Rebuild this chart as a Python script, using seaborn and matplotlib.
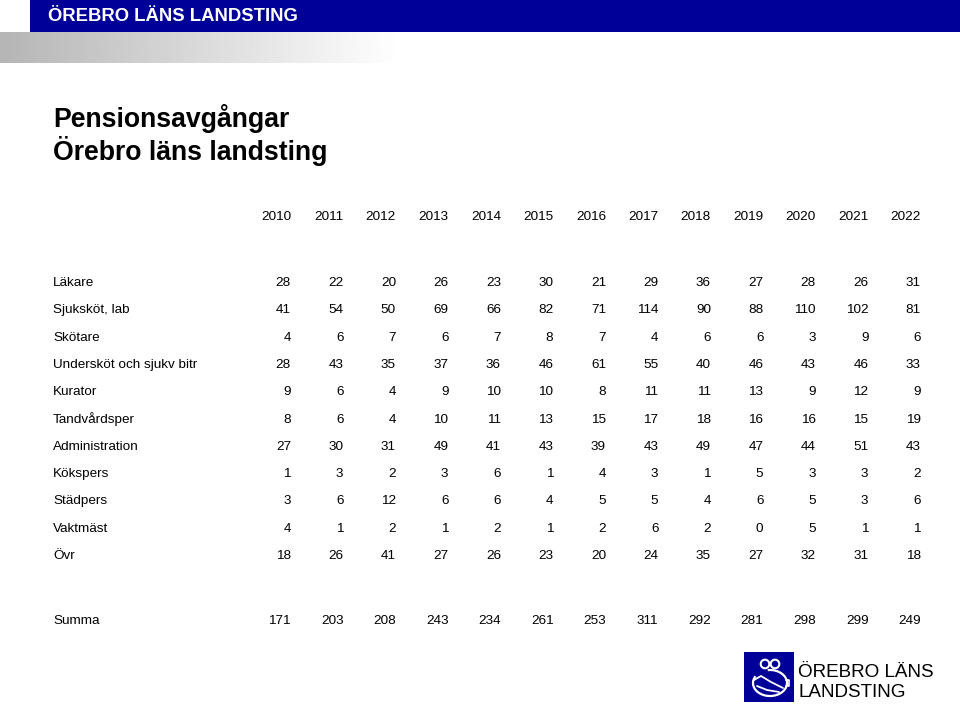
import numpy as np
import pandas as pd
import matplotlib
matplotlib.use("Agg")
import matplotlib.pyplot as plt
import seaborn as sns
from matplotlib.colors import ListedColormap
from matplotlib.patches import Rectangle, Circle, Arc
from matplotlib.transforms import blended_transform_factory

# ---------------- data ----------------
years = [2010, 2011, 2012, 2013, 2014, 2015, 2016, 2017, 2018, 2019, 2020, 2021, 2022]
categories = ["Läkare", "Sjuksköt, lab", "Skötare", "Undersköt och sjukv bitr",
              "Kurator", "Tandvårdsper", "Administration", "Kökspers",
              "Städpers", "Vaktmäst", "Övr"]
lakare = [28, 22, 20, 26, 23, 30, 21, 29, 36, 27, 28, 26, 31]
sjukskot = [41, 54, 50, 69, 66, 82, 71, 114, 90, 88, 110, 102, 81]
skotare = [4, 6, 7, 6, 7, 8, 7, 4, 6, 6, 3, 9, 6]
underskot = [28, 43, 35, 37, 36, 46, 61, 55, 40, 46, 43, 46, 33]
kurator = [9, 6, 4, 9, 10, 10, 8, 11, 11, 13, 9, 12, 9]
tandvard = [8, 6, 4, 10, 11, 13, 15, 17, 18, 16, 16, 15, 19]
administration = [27, 30, 31, 49, 41, 43, 39, 43, 49, 47, 44, 51, 43]
kokspers = [1, 3, 2, 3, 6, 1, 4, 3, 1, 5, 3, 3, 2]
stadpers = [3, 6, 12, 6, 6, 4, 5, 5, 4, 6, 5, 3, 6]
vaktmast = [4, 1, 2, 1, 2, 1, 2, 6, 2, 0, 5, 1, 1]
ovr = [18, 26, 41, 27, 26, 23, 20, 24, 35, 27, 32, 31, 18]
summa = [171, 203, 208, 243, 234, 261, 253, 311, 292, 281, 298, 299, 249]

df = pd.DataFrame([lakare, sjukskot, skotare, underskot, kurator, tandvard,
                   administration, kokspers, stadpers, vaktmast, ovr],
                  index=categories, columns=years)
df_sum = pd.DataFrame([summa], index=["Summa"], columns=years)

# ---------------- figure ----------------
sns.set_theme(style="white")
plt.rcParams["font.family"] = ["Liberation Sans", "DejaVu Sans"]

W, H = 960, 707
fig = plt.figure(figsize=(W / 100, H / 100), dpi=100)
fig.patch.set_facecolor("white")

def fx(px):
    return px / W

def fy(py):
    return 1 - py / H

# blue header bar
fig.patches.append(Rectangle((fx(30), fy(32)), fx(930), 32 / H,
                             transform=fig.transFigure, facecolor="#000099",
                             edgecolor="none", zorder=0))
fig.text(fx(48), fy(16.5), "ÖREBRO LÄNS LANDSTING", color="white",
         fontsize=13.3, fontweight="bold", ha="left", va="center")

# gray gradient band
gax = fig.add_axes([0, fy(63), fx(400), 31 / H])
grad = np.linspace(0.71, 1.0, 256).reshape(1, -1)
gax.imshow(grad, aspect="auto", cmap="gray", vmin=0, vmax=1,
           extent=[0, 1, 0, 1])
gax.set_axis_off()

# title
fig.text(fx(53), fy(127), "Pensionsavgångar", fontsize=19.2,
         fontweight="bold", ha="left", va="baseline", color="black")
fig.text(fx(53), fy(160), "Örebro läns landsting", fontsize=19.2,
         fontweight="bold", ha="left", va="baseline", color="black")

# ---------------- table body ----------------
cell_w = 52.5
row_h = 27.3
first_row = 283
ax_left = 291 - cell_w + 2
ax_top = first_row - row_h / 2
n_rows = len(categories)
ax = fig.add_axes([fx(ax_left), fy(ax_top + n_rows * row_h),
                   fx(cell_w * len(years)), n_rows * row_h / H])
txt_kw = dict(fontsize=9.7, color="black")
sns.heatmap(df, ax=ax, annot=True, fmt="d", cmap=ListedColormap(["white"]),
            cbar=False, xticklabels=False, yticklabels=False,
            annot_kws=txt_kw)

pad = 2 / cell_w
for t in ax.texts:
    x, y = t.get_position()
    t.set_position((x + 0.5 - pad, y))
    t.set_ha("right")
    t.set_color("black")

# years header
y_header = 0.5 - (first_row - 217) / row_h
for j, yr in enumerate(years):
    ax.text(j + 1 - pad, y_header, str(yr), ha="right", va="center",
            clip_on=False, **txt_kw)

# row labels
trans = blended_transform_factory(fig.transFigure, ax.transData)
for i, cat in enumerate(categories):
    ax.text(fx(53), i + 0.5, cat, transform=trans, ha="left", va="center",
            clip_on=False, **txt_kw)

# ---------------- Summa row ----------------
sum_y = 621
ax2 = fig.add_axes([fx(ax_left), fy(sum_y + row_h / 2),
                    fx(cell_w * len(years)), row_h / H])
sns.heatmap(df_sum, ax=ax2, annot=True, fmt="d", cmap=ListedColormap(["white"]),
            cbar=False, xticklabels=False, yticklabels=False,
            annot_kws=txt_kw)
for t in ax2.texts:
    x, y = t.get_position()
    t.set_position((x + 0.5 - pad, y))
    t.set_ha("right")
    t.set_color("black")
trans2 = blended_transform_factory(fig.transFigure, ax2.transData)
ax2.text(fx(53), 0.5, "Summa", transform=trans2, ha="left", va="center",
         clip_on=False, **txt_kw)

# ---------------- logo ----------------
lax = fig.add_axes([0, 0, 1, 1], facecolor="none")
lax.set_xlim(0, W)
lax.set_ylim(H, 0)
lax.set_axis_off()
lax.add_patch(Rectangle((744, 652), 50, 50, facecolor="#000099",
                        edgecolor="none"))
lax.add_patch(Circle((765, 664), 4.3, facecolor="none", edgecolor="white", lw=1.5))
lax.add_patch(Circle((775, 664), 4.3, facecolor="none", edgecolor="white", lw=1.5))
lax.add_patch(Arc((770, 683), 34, 26, theta1=-100, theta2=205,
                  edgecolor="white", lw=1.6))
lax.plot([754, 761, 771, 783], [680, 676, 682, 688], color="white", lw=1.3)
lax.plot([757, 767, 779], [686, 690, 692], color="white", lw=1.3)
lax.plot([786, 789, 789, 786], [680, 680, 686, 686], color="white", lw=1.2)
lax.text(798, 677, "ÖREBRO LÄNS", fontsize=13.6, color="black",
         ha="left", va="baseline")
lax.text(798, 697, "LANDSTING", fontsize=13.6, color="black",
         ha="left", va="baseline")

fig.savefig("out.png", dpi=100)
